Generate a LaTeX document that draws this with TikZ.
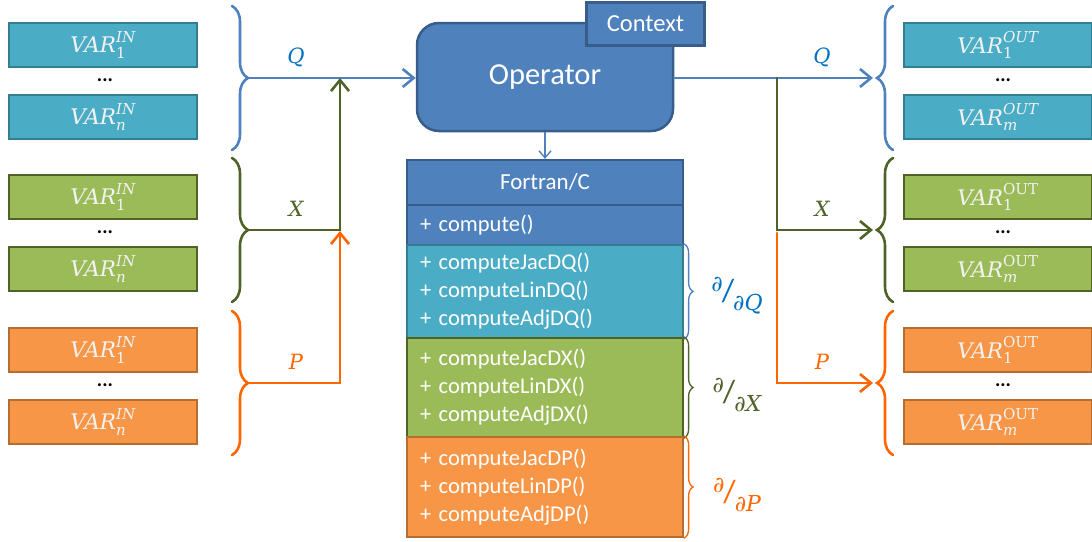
\documentclass[tikz,border=0pt]{standalone}
\usepackage{amsmath}
\usepackage{fontspec}
\setmainfont{Carlito}
\newfontfamily\symfont{DejaVu Serif}
\usepackage{tikz}
\usetikzlibrary{arrows.meta,decorations.pathreplacing}
\definecolor{fillq}{HTML}{4BACC6}
\definecolor{lineq}{HTML}{357D91}
\definecolor{fillx}{HTML}{9BBB59}
\definecolor{linex}{HTML}{4F6228}
\definecolor{fillp}{HTML}{F79646}
\definecolor{linep}{HTML}{B66D31}
\definecolor{opfill}{HTML}{4F81BD}
\definecolor{opline}{HTML}{385D8A}
\definecolor{wireq}{HTML}{4F81BD}
\definecolor{wirex}{HTML}{4F6228}
\definecolor{wirep}{HTML}{FF6600}
\definecolor{labq}{HTML}{0070C0}
\definecolor{labx}{HTML}{4F6228}
\definecolor{labp}{HTML}{FF6600}
\definecolor{boxtext}{HTML}{F2F2F2}
% VAR with index and tag
\newcommand{\varname}[2]{$\text{\symfont\itshape VAR}_{\text{\symfont #1}}^{\text{\symfont #2}}$}
% partial derivative label
\newcommand{\dd}[1]{\raisebox{10pt}{\symfont\itshape\char"2202}\kern-1pt{\fontsize{32}{32}\selectfont/}\kern-1pt\raisebox{-9pt}{\symfont\itshape\char"2202#1}}
\tikzset{
  varbox/.style={draw, line width=2.5pt, minimum width=188pt, minimum height=44pt, text=boxtext, font=\fontsize{21.5}{24}\selectfont},
  opbox/.style={draw=opline, fill=opfill, line width=2.5pt, text=white},
  method/.style={draw=opline, line width=2.2pt, inner xsep=13pt, text width=250pt, align=left, text=white, font=\fontsize{22.5}{28}\selectfont},
  wire/.style={line width=2.6pt, line cap=round, -{Straight Barb[length=11pt,width=18pt]}},
  thinwire/.style={line width=1.4pt, -{Straight Barb[length=7pt,width=12pt]}},
  bigbrace/.style={decorate, decoration={brace, amplitude=16pt}, line width=2.6pt, line cap=round},
  dbrace/.style={decorate, decoration={brace, amplitude=9pt}, line width=1.3pt, line cap=round},
  dots/.style={font=\fontsize{20}{20}\selectfont\bfseries},
  sym/.style={font=\fontsize{21}{24}\selectfont\symfont\itshape},
  dlab/.style={font=\fontsize{22}{24}\selectfont},
}
\begin{document}
\begin{tikzpicture}[x=1pt,y=-1pt]
  \path[use as bounding box] (0,0) rectangle (1092,541);
  \clip (0,0) rectangle (1092,541);

  % inputs, outputs and their braces
  \foreach \g/\G/\y/\up in {q/Q/0/{\itshape OUT}, x/X/152/{OUT}, p/P/305/{OUT}}{
    \node[varbox, fill=fill\g, draw=line\g] (in\g1) at (103,45+\y) {\varname{1}{\itshape IN}};
    \node[dots] (dotin\g) at (105,80+\y) {...};
    \node[varbox, fill=fill\g, draw=line\g] (in\g2) at (103,117+\y) {\varname{\itshape n}{\itshape IN}};
    \draw[bigbrace, draw=wire\g] (232,6+\y) -- (232,150+\y);
    \coordinate (tip\g) at (248,78+\y);
    \node[sym, text=lab\g] (labin\g) at (296,57+\y) {\G};

    \node[varbox, fill=fill\g, draw=line\g] (out\g1) at (998,45+\y) {\varname{1}{\up}};
    \node[dots] (dotout\g) at (1003,80+\y) {...};
    \node[varbox, fill=fill\g, draw=line\g] (out\g2) at (998,117+\y) {\varname{\itshape m}{\up}};
    \draw[bigbrace, draw=wire\g] (893,150+\y) -- (893,6+\y);
    \coordinate (outtip\g) at (873,78+\y);
    \node[sym, text=lab\g] (labout\g) at (822,57+\y) {\G};
  }

  % operator
  \node[opbox, rounded corners=22pt, minimum width=256pt, minimum height=108pt,
        font=\fontsize{30.5}{32}\selectfont] (op) at (545,77) {Operator};
  \node[opbox, minimum width=118pt, minimum height=43pt,
        font=\fontsize{24.5}{26}\selectfont] (ctx) at (645.5,24) {Context};

  % class stack
  \node[method, fill=opfill, align=center, minimum height=45pt, font=\fontsize{23}{26}\selectfont] (fc) at (545,182.5) {Fortran/C};
  \node[method, fill=opfill, minimum height=40pt] (cmp) at (545,225) {+ compute()};
  \node[method, fill=fillq, draw=lineq, minimum height=93pt] (dq) at (545,291.5)
    {+ computeJacDQ()\\+ computeLinDQ()\\+ computeAdjDQ()};
  \node[method, fill=fillx, draw=linex, minimum height=99pt] (dx) at (545,387.5)
    {+ computeJacDX()\\+ computeLinDX()\\+ computeAdjDX()};
  \node[method, fill=fillp, draw=linep, minimum height=100pt] (dp) at (545,487)
    {+ computeJacDP()\\+ computeLinDP()\\+ computeAdjDP()};

  \draw[thinwire, draw=wireq] (op.south) -- (fc.north);

  \draw[dbrace, draw=wireq] (dq.north east) -- (dq.south east);
  \draw[dbrace, draw=wirex] (dx.north east) -- (dx.south east);
  \draw[dbrace, draw=wirep] (dp.north east) -- (dp.south east);
  \node[dlab, text=labq] (dlq) at (737,296) {\dd{Q}};
  \node[dlab, text=labx] (dlx) at (737,395) {\dd{X}};
  \node[dlab, text=labp] (dlp) at (737,495) {\dd{P}};

  % wires in
  \coordinate (joinq) at (340,78);
  \coordinate (joinx) at (340,231);
  \draw[wire, draw=wireq] (tipq) -- (tipq -| op.west);
  \draw[wire, draw=wirex] (tipx) -| (joinq);
  \draw[wire, draw=wirep] (tipp) -| (joinx);

  % wires out
  \coordinate (splitq) at (777,78);
  \coordinate (splitx) at (777,233);
  \draw[wire, draw=wireq] (op.east |- outtipq) -- (outtipq);
  \draw[wire, draw=wirex] (splitq) |- (outtipx);
  \draw[wire, draw=wirep] (splitx) |- (outtipp);
\end{tikzpicture}
\end{document}
